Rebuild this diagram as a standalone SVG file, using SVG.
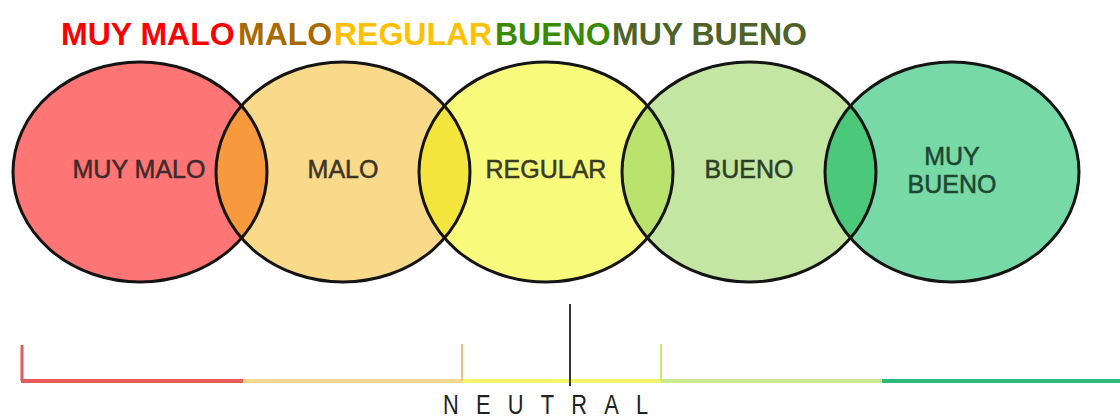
<svg xmlns="http://www.w3.org/2000/svg" width="1120" height="419" viewBox="0 0 1120 419">
  <style>
    .title{font-family:"Liberation Sans",Arial,sans-serif;font-weight:bold;font-size:32px}
    .lbl{font-family:"Liberation Sans",Arial,sans-serif;font-size:25px;text-anchor:middle;stroke-width:0.5}
    .ol{fill:none;stroke:#141414;stroke-width:3}
    .neutral{font-family:"Liberation Sans",Arial,sans-serif;font-size:28px;fill:#222}
  </style>
  <defs>
    <clipPath id="c1"><ellipse cx="140" cy="172" rx="127" ry="110"/></clipPath>
    <clipPath id="c2"><ellipse cx="343" cy="172" rx="127" ry="110"/></clipPath>
    <clipPath id="c3"><ellipse cx="546" cy="172" rx="127" ry="110"/></clipPath>
    <clipPath id="c4"><ellipse cx="749" cy="172" rx="127" ry="110"/></clipPath>
  </defs>
  <rect width="1120" height="419" fill="#ffffff"/>

  <g id="title">
    <text class="title" x="61" y="45" fill="#ff0000">MUY MALO</text>
    <text class="title" x="238" y="45" fill="#a86a00">MALO</text>
    <text class="title" x="334" y="45" fill="#ffc000">REGULAR</text>
    <text class="title" x="495" y="45" fill="#3a8a00">BUENO</text>
    <text class="title" x="612" y="45" fill="#4f6228">MUY BUENO</text>
  </g>

  <g id="node-muy-malo">
    <ellipse cx="140" cy="172" rx="127" ry="110" fill="#fd7575"/>
    <text class="lbl" x="139" y="178" fill="#3e2a2a" stroke="#3e2a2a">MUY MALO</text>
  </g>
  <g id="node-malo">
    <ellipse cx="343" cy="172" rx="127" ry="110" fill="#f9d98a"/>
    <text class="lbl" x="343" y="178" fill="#3c3526" stroke="#3c3526">MALO</text>
  </g>
  <g id="node-regular">
    <ellipse cx="546" cy="172" rx="127" ry="110" fill="#f8fa7c"/>
    <text class="lbl" x="546" y="178" fill="#3a3b24" stroke="#3a3b24">REGULAR</text>
  </g>
  <g id="node-bueno">
    <ellipse cx="749" cy="172" rx="127" ry="110" fill="#c4e6a3"/>
    <text class="lbl" x="749" y="178" fill="#2d3f27" stroke="#2d3f27">BUENO</text>
  </g>
  <g id="node-muy-bueno">
    <ellipse cx="952" cy="172" rx="127" ry="110" fill="#76d9a6"/>
    <text class="lbl" x="952" y="165" fill="#1f4631" stroke="#1f4631">MUY</text>
    <text class="lbl" x="952" y="193" fill="#1f4631" stroke="#1f4631">BUENO</text>
  </g>

  <g id="overlaps">
    <ellipse cx="343" cy="172" rx="127" ry="110" fill="#f79a3e" clip-path="url(#c1)"/>
    <ellipse cx="546" cy="172" rx="127" ry="110" fill="#f4e53c" clip-path="url(#c2)"/>
    <ellipse cx="749" cy="172" rx="127" ry="110" fill="#b9e36c" clip-path="url(#c3)"/>
    <ellipse cx="952" cy="172" rx="127" ry="110" fill="#4cc87a" clip-path="url(#c4)"/>
  </g>

  <g id="outlines">
    <ellipse class="ol" cx="140" cy="172" rx="127" ry="110"/>
    <ellipse class="ol" cx="343" cy="172" rx="127" ry="110"/>
    <ellipse class="ol" cx="546" cy="172" rx="127" ry="110"/>
    <ellipse class="ol" cx="749" cy="172" rx="127" ry="110"/>
    <ellipse class="ol" cx="952" cy="172" rx="127" ry="110"/>
  </g>

  <g id="connectors">
    <line x1="21" y1="381" x2="243" y2="381" stroke="#e85a5a" stroke-width="4"/>
    <line x1="243" y1="381" x2="462" y2="381" stroke="#f8d790" stroke-width="4"/>
    <line x1="462" y1="381" x2="661" y2="381" stroke="#f2f56c" stroke-width="4"/>
    <line x1="661" y1="381" x2="882" y2="381" stroke="#c9ea8e" stroke-width="4"/>
    <line x1="882" y1="381" x2="1120" y2="381" stroke="#2db87c" stroke-width="4"/>
    <line x1="22" y1="345" x2="22" y2="381" stroke="#e85a5a" stroke-width="3"/>
    <line x1="462" y1="344" x2="462" y2="381" stroke="#f3c27a" stroke-width="2"/>
    <line x1="661" y1="344" x2="661" y2="381" stroke="#c8ec6e" stroke-width="2"/>
    <line x1="570" y1="304" x2="570" y2="386" stroke="#333333" stroke-width="2"/>
  </g>

  <g id="scale-label">
    <text class="neutral" transform="translate(443,414) scale(0.78,1)" x="0" y="0" textLength="263" lengthAdjust="spacing">NEUTRAL</text>
  </g>
</svg>
